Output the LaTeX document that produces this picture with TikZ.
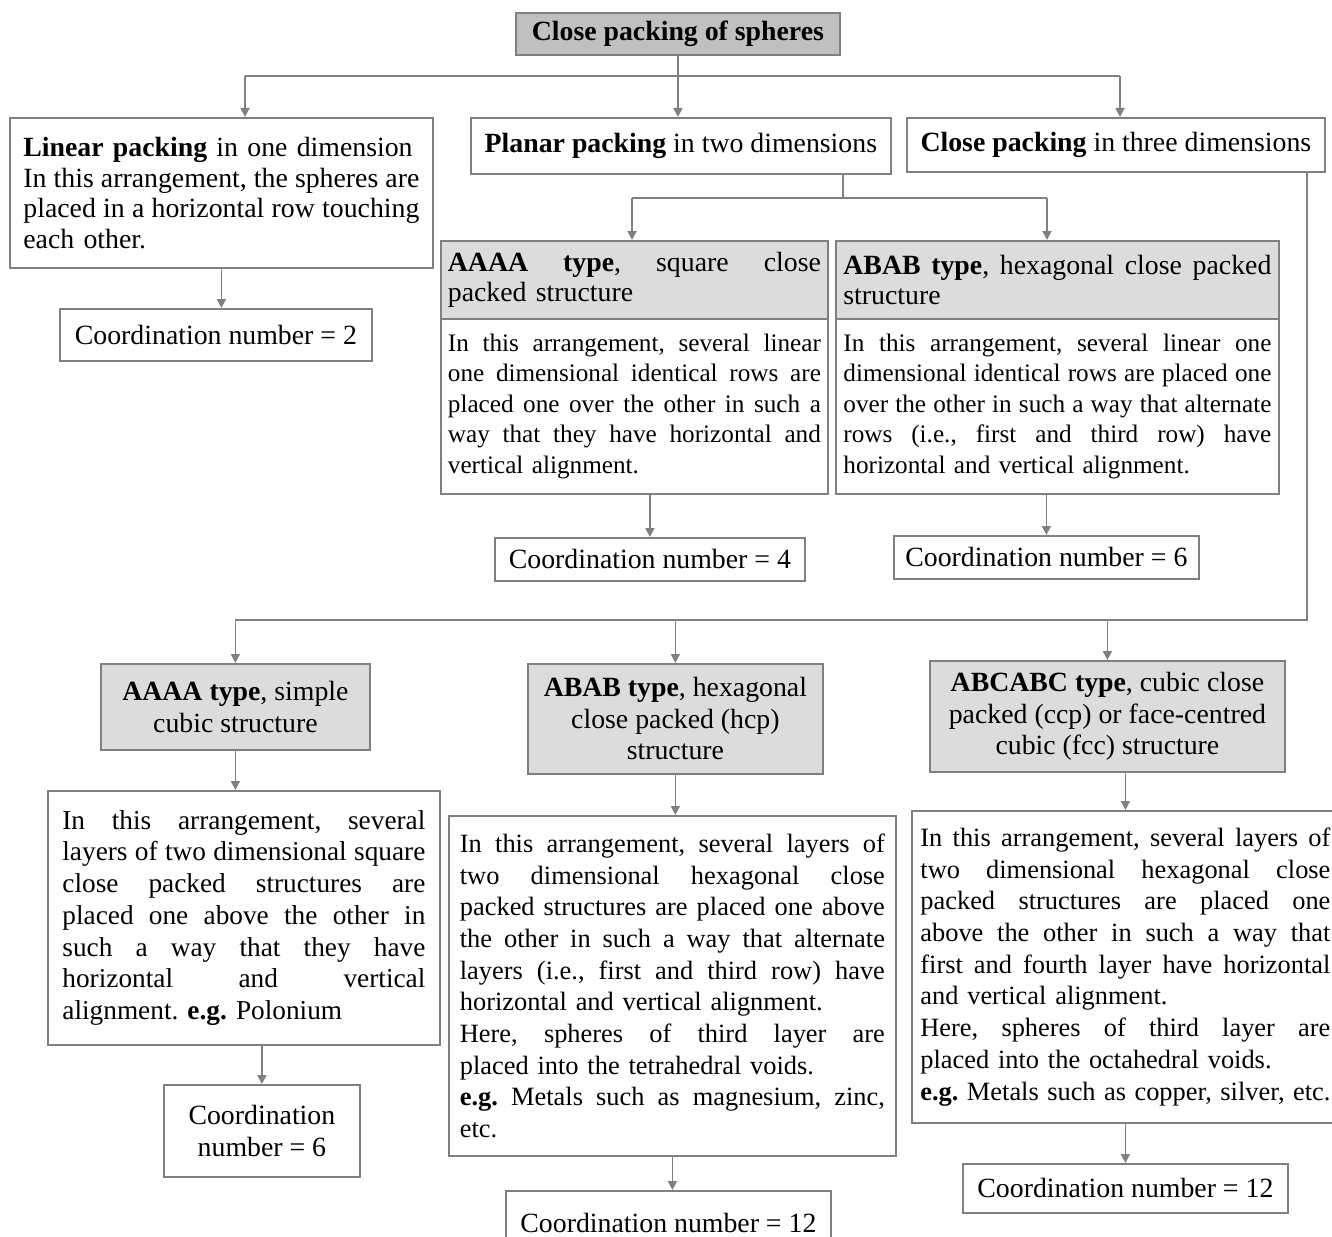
\documentclass[tikz,border=0pt]{standalone}
\usepackage{fontspec}
\setmainfont{Liberation Serif}
\usepackage{graphicx}
\usepackage{tikz}
\usetikzlibrary{arrows.meta, positioning, calc}

\definecolor{linegray}{HTML}{808080}
\definecolor{headgray}{HTML}{DCDCDC}
\definecolor{titlegray}{HTML}{C0C0C0}

\frenchspacing
\newcommand{\uptxt}{\fontsize{13.9}{15.25}\selectfont}
\newcommand{\upbody}{\fontsize{12.6}{15.25}\selectfont}
\newcommand{\lowtxt}{\fontsize{13.9}{15.75}\selectfont}
\newcommand{\lowbody}{\fontsize{13.2}{15.85}\selectfont}
% one justified line of a box
\newsavebox{\jlbox}
\newcommand{\jline}[1]{\leavevmode{\spaceskip=.25em plus 10em minus .1em\relax
  \sbox{\jlbox}{\spaceskip=.15em\relax #1}%
  \ifdim\wd\jlbox>\linewidth\resizebox{\linewidth}{\height}{\usebox{\jlbox}}%
  \else\hbox to\linewidth{#1}\fi}}

\begin{document}
\begin{tikzpicture}[
  x=0.5pt, y=-0.5pt,
  box/.style={draw=linegray, line width=0.9pt, rectangle, inner sep=0pt, anchor=north west, font=\uptxt, align=center},
  lowbox/.style={box, font=\lowtxt},
  hbox/.style={box, fill=headgray},
  txt/.style={align=left},
  wire/.style={draw=linegray, line width=0.9pt},
  arr/.style={wire, -{Triangle[width=4.5pt,length=4.5pt]}}
  ]
  \useasboundingbox (0,0) rectangle (1332,1236);
  \clip (0,0) rectangle (1332,1236);

  % top level
  \node[box, fill=titlegray, minimum width=162pt, minimum height=21pt] (title) at (515,12) {\textbf{Close packing of spheres}};
  \node[box, txt, minimum width=211.5pt, minimum height=75pt, text width=198pt] (lin) at (9,117)
    {\textbf{Linear packing} in one dimension\\
     \jline{In this arrangement, the spheres are}\\
     \jline{placed in a horizontal row touching}\\
     each other.};
  \node[box, minimum width=156pt, minimum height=26pt] (cn2) at (59,308) {Coordination number = 2};
  \node[box, minimum width=210pt, minimum height=28pt] (planar) at (470,117) {\textbf{Planar packing} in two dimensions};
  \node[box, minimum width=209pt, minimum height=27pt] (close3) at (906,117) {\textbf{Close packing} in three dimensions};

  % planar packing
  \node[hbox, txt, minimum width=193.5pt, minimum height=39pt, text width=186.5pt] (aaaaH) at (440,240)
    {\jline{\textbf{AAAA type}, square close}\\
     packed structure};
  \node[box, txt, font=\upbody, minimum width=193.5pt, minimum height=87.5pt, text width=186.5pt] (aaaaB) at (440,318)
    {\jline{In this arrangement, several linear}\\
     \jline{one dimensional identical rows are}\\
     \jline{placed one over the other in such a}\\
     \jline{way that they have horizontal and}\\
     vertical alignment.};
  \node[box, minimum width=155pt, minimum height=21.5pt] (cn4) at (494,537) {Coordination number = 4};
  \node[hbox, txt, minimum width=221.5pt, minimum height=39pt, text width=214pt] (ababH) at (835,240)
    {\jline{\textbf{ABAB type}, hexagonal close packed}\\
     structure};
  \node[box, txt, font=\upbody, minimum width=221.5pt, minimum height=87.5pt, text width=214pt] (ababB) at (835,318)
    {\jline{In this arrangement, several linear one}\\
     \jline{dimensional identical rows are placed one}\\
     \jline{over the other in such a way that alternate}\\
     \jline{rows (i.e., first and third row) have}\\
     horizontal and vertical alignment.};
  \node[box, minimum width=152.5pt, minimum height=21.5pt] (cn6a) at (893,535) {Coordination number = 6};

  % close packing
  \node[lowbox, fill=headgray, minimum width=134.5pt, minimum height=43pt] (sc) at (100,663)
    {\textbf{AAAA type}, simple\\ cubic structure};
  \node[lowbox, txt, font=\fontsize{13.65}{15.85}\selectfont, minimum width=196pt, minimum height=127pt, text width=181.5pt] (scB) at (47,790)
    {\jline{In this arrangement, several}\\
     \jline{layers of two dimensional square}\\
     \jline{close packed structures are}\\
     \jline{placed one above the other in}\\
     \jline{such a way that they have}\\
     \jline{horizontal and vertical}\\
     alignment. \textbf{e.g.} Polonium};
  \node[lowbox, minimum width=98pt, minimum height=46pt] (cn6b) at (163,1084) {Coordination\\ number = 6};

  \node[lowbox, fill=headgray, minimum width=147.5pt, minimum height=55pt] (hcp) at (527,663)
    {\textbf{ABAB type}, hexagonal\\ close packed (hcp)\\ structure};
  \node[lowbox, txt, font=\lowbody, minimum width=223.5pt, minimum height=170pt, text width=212.5pt] (hcpB) at (448,815)
    {\jline{In this arrangement, several layers of}\\
     \jline{two dimensional hexagonal close}\\
     \jline{packed structures are placed one above}\\
     \jline{the other in such a way that alternate}\\
     \jline{layers (i.e., first and third row) have}\\
     horizontal and vertical alignment.\\
     \jline{Here, spheres of third layer are}\\
     placed into the tetrahedral voids.\\
     \jline{\textbf{e.g.} Metals such as magnesium, zinc,}\\
     etc.};
  \node[lowbox, minimum width=162.5pt, minimum height=32pt] (cn12a) at (505,1190) {Coordination number = 12};

  \node[lowbox, fill=headgray, minimum width=177.5pt, minimum height=55.5pt] (fcc) at (929,660)
    {\textbf{ABCABC type}, cubic close\\ packed (ccp) or face-centred\\ cubic (fcc) structure};
  \node[lowbox, txt, font=\lowbody, minimum width=213.5pt, minimum height=156pt, text width=205pt] (fccB) at (911,810)
    {\jline{In this arrangement, several layers of}\\
     \jline{two dimensional hexagonal close}\\
     \jline{packed structures are placed one}\\
     \jline{above the other in such a way that}\\
     \jline{first and fourth layer have horizontal}\\
     and vertical alignment.\\
     \jline{Here, spheres of third layer are}\\
     placed into the octahedral voids.\\
     \jline{\textbf{e.g.} Metals such as copper, silver, etc.}};
  \node[lowbox, minimum width=162.5pt, minimum height=24.5pt] (cn12b) at (962,1163) {Coordination number = 12};

  % connectors
  \coordinate (busAL) at (245,76);
  \coordinate (busAR) at (1120,76);
  \draw[wire] (title.south |- busAL) -- (busAL) (busAL) -- (busAR);
  \draw[arr] (title.south) -- (title.south |- planar.north);
  \draw[arr] (busAL) -- (busAL |- lin.north);
  \draw[arr] (busAR) -- (busAR |- close3.north);
  \draw[arr] (lin.south) -- (lin.south |- cn2.north);

  \coordinate (busB) at (843,198);
  \coordinate (busBL) at (632,198);
  \coordinate (busBR) at (1047,198);
  \draw[wire] (busB |- planar.south) -- (busB);
  \draw[wire] (busBL) -- (busBR);
  \draw[arr] (busBL) -- (busBL |- aaaaH.north);
  \draw[arr] (busBR) -- (busBR |- ababH.north);
  \draw[arr] (cn4.north |- aaaaB.south) -- (cn4.north);
  \draw[arr] (cn6a.north |- ababB.south) -- (cn6a.north);

  \coordinate (busC) at (1307,620);
  \draw[wire] (busC |- close3.south) -- (busC) -- (busC -| sc.north);
  \draw[arr] (sc.north |- busC) -- (sc.north);
  \draw[arr] (hcp.north |- busC) -- (hcp.north);
  \draw[arr] (fcc.north |- busC) -- (fcc.north);
  \draw[arr] (sc.south) -- (sc.south |- scB.north);
  \draw[arr] (cn6b.north |- scB.south) -- (cn6b.north);
  \draw[arr] (hcp.south) -- (hcp.south |- hcpB.north);
  \draw[arr] (hcpB.south) -- (hcpB.south |- cn12a.north);
  \draw[arr] (fccB.north |- fcc.south) -- (fccB.north);
  \draw[arr] (fccB.south) -- (fccB.south |- cn12b.north);
\end{tikzpicture}
\end{document}
